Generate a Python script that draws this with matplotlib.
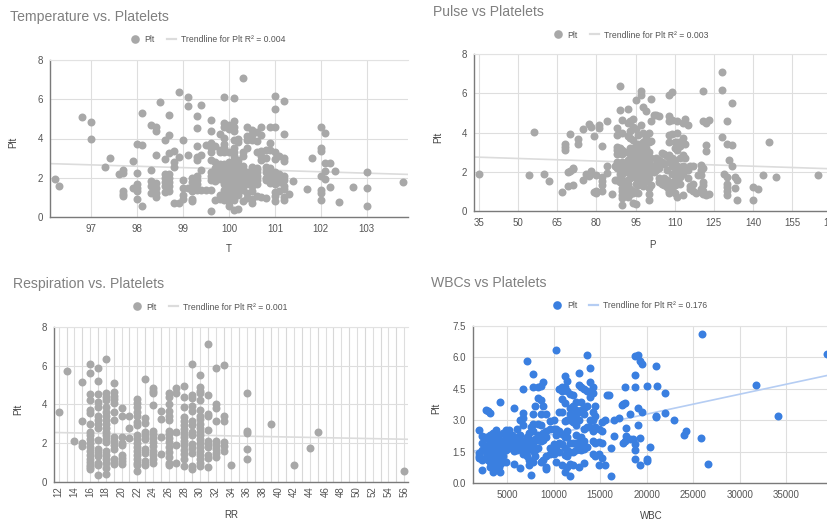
import matplotlib
matplotlib.use('Agg')
import matplotlib.pyplot as plt
from matplotlib.lines import Line2D

plt.rcParams['font.family'] = ['Liberation Sans', 'DejaVu Sans']

W, H = 828, 522

# Temperature: кожному значенню T відповідає список Plt
temp_t = [96.2, 96.3, 96.8, 97, 97.3, 97.4, 97.6, 97.7, 97.9, 98, 98.1, 98.3, 98.4, 98.5, 98.6, 98.7, 98.8, 98.9,
          99, 99.1, 99.2, 99.3, 99.4, 99.5, 99.6, 99.7, 99.8, 99.9, 100, 100.1, 100.2, 100.3, 100.4, 100.5, 100.6,
          100.7, 100.8, 100.9, 101, 101.1, 101.2, 101.3, 101.4, 101.7, 101.8, 102, 102.1, 102.2, 102.3, 102.4,
          102.7, 103, 103.8]
temp_plt = [[1.95], [1.6], [5.1], [4.85, 4.0], [2.55], [3.0], [2.2], [2.4, 2.25, 1.3, 1.15, 1.05], [2.85, 1.5],
            [3.7, 2.25, 1.7, 1.5, 1.35, 0.9], [5.3, 3.65, 0.55], [4.7, 2.4, 1.85, 1.6, 1.2],
            [4.6, 4.4, 3.15, 1.75, 1.5, 1.2, 1.0], [5.85], [3.9, 2.95, 2.2, 2.0, 1.8, 1.6, 1.25],
            [5.2, 4.2, 3.25, 2.2, 2.0, 1.8, 1.6, 1.3], [3.35, 2.8, 2.55, 0.7], [6.35, 3.05, 0.7],
            [3.9, 1.9, 1.5, 1.1, 0.9], [6.1, 5.65, 3.15, 1.5], [2.0, 1.8, 1.5, 1.3, 0.9, 0.8],
            [5.15, 4.55, 3.6, 3.05, 2.9, 2.1, 1.9, 1.7, 1.4], [5.7, 3.15, 2.4, 1.4], [3.65, 1.4],
            [4.95, 4.4, 3.75, 3.5, 3.3, 2.9, 2.3, 2.1, 1.9, 1.4, 0.33], [3.6, 2.8, 2.5, 2.2, 2.0, 1.85, 0.85],
            [4.25, 3.4, 3.3, 2.7, 2.4, 2.2, 1.95, 1.1, 0.9],
            [6.1, 4.8, 4.6, 4.05, 3.7, 3.5, 3.3, 2.7, 2.5, 2.3, 2.1, 1.9, 1.7, 1.4, 1.2, 1.0, 0.85],
            [4.7, 4.5, 3.3, 2.8, 2.6, 2.4, 2.2, 2.0, 1.8, 1.6, 1.4, 1.2, 1.05, 0.9, 0.75, 0.55],
            [6.05, 4.9, 4.6, 4.4, 3.9, 3.5, 3.3, 3.1, 2.9, 2.7, 2.5, 2.3, 2.0, 1.8, 1.6, 1.4, 1.2, 1.0, 0.85, 0.38],
            [3.95, 3.8, 2.9, 2.7, 2.5, 2.3, 2.1, 1.9, 1.7, 1.5, 1.3, 1.1, 0.4],
            [7.1, 3.3, 3.1, 2.6, 2.4, 2.2, 2.0, 1.8, 1.6, 1.4, 0.8],
            [4.6, 4.15, 3.9, 3.5, 2.3, 2.1, 1.9, 1.7, 1.2, 0.95],
            [4.45, 4.2, 3.9, 2.55, 2.3, 2.0, 1.8, 1.6, 1.3, 0.9, 0.7],
            [4.35, 3.85, 3.3, 2.5, 2.3, 2.1, 1.9, 1.7, 1.05], [4.6, 4.2, 3.35, 3.1, 2.9, 1.0],
            [3.4, 3.0, 2.55, 2.3, 2.0, 1.9, 0.95], [4.6, 3.75, 3.4, 2.5, 2.3, 2.1, 1.9, 1.75],
            [6.15, 5.5, 4.6, 3.3, 2.95, 2.3, 2.1, 1.9, 1.7, 1.25, 1.05, 0.8], [3.1, 2.2, 2.0, 1.8, 1.3],
            [5.9, 4.25, 3.0, 2.85, 2.1, 1.9, 1.6, 1.45, 1.0, 0.85], [1.15], [1.85], [1.45], [3.0],
            [4.6, 3.5, 3.35, 2.1, 1.4, 1.2, 0.85], [4.3, 2.75, 2.35, 1.95], [2.75, 1.55], [2.35], [0.75], [1.55],
            [2.3, 1.5, 0.55], [1.8]]
temp_trend_x = [96.1, 103.9]
temp_trend_y = [2.72, 2.17]
temp_ticks = [97, 98, 99, 100, 101, 102, 103]

# Pulse
pulse_p = [35, 54, 56, 60, 62, 67, 68, 69, 70, 71, 73, 75, 76, 77, 78, 79, 80, 81, 82, 84, 86, 87, 88, 89, 90, 91,
           92, 93, 94, 95, 96, 97, 98, 99, 100, 101, 102, 103, 104, 105, 106, 107, 108, 109, 110, 111, 112, 113,
           114, 115, 116, 117, 118, 119, 120, 121, 122, 123, 128, 129, 130, 131, 132, 133, 134, 140, 142, 144,
           146, 149, 165]
pulse_plt = [[1.9], [1.85], [4.05], [1.9], [1.55], [0.95], [3.4, 3.25, 3.1], [2.0, 1.25], [3.9, 2.05],
             [2.2, 2.15, 1.35], [3.65, 3.4], [4.2, 1.6], [1.9], [4.45, 1.8], [4.3, 2.05], [3.8, 0.95],
             [1.85, 1.0, 0.9], [4.4, 4.25], [3.3, 1.75, 1.55, 1.3, 1.0], [4.6, 2.3, 1.95], [0.85], [2.3, 1.6],
             [4.25, 3.85, 3.25, 3.1, 2.9, 2.5, 2.2, 1.6], [6.35, 5.15, 3.2, 2.95, 2.4, 2.1, 1.9, 1.5],
             [4.65, 3.95, 3.1, 2.9, 2.5, 2.2, 1.9, 1.6, 1.15, 1.0, 0.8, 0.65, 0.33],
             [3.0, 2.4, 2.0, 1.55, 1.2, 1.0, 0.85], [5.2, 4.5, 3.8, 2.6, 2.3, 2.0, 1.6, 1.4, 1.1, 0.9, 0.7],
             [4.6, 4.1, 3.7, 3.2, 2.9, 2.5, 2.2, 1.7, 1.1, 0.85], [4.7, 4.3, 3.6, 3.2, 2.8, 2.5, 2.2, 1.9, 1.0, 0.9, 0.4],
             [5.65, 4.2, 3.3, 3.0, 2.6, 2.3, 2.0, 1.7, 1.4, 0.95, 0.38], [3.85, 3.4, 2.9, 2.5, 2.1, 1.8, 1.3, 0.9],
             [6.1, 5.9, 4.4, 3.3, 3.0, 2.6, 2.3, 2.0, 1.7, 1.4], [5.3, 3.95, 3.5, 3.1, 2.8, 2.4, 2.1, 1.8, 1.5, 1.25],
             [5.1, 3.7, 3.2, 2.9, 2.6, 2.2, 1.9, 1.55], [4.0, 3.5, 3.0, 2.6, 2.3, 2.0, 1.7, 1.15, 0.85, 0.55],
             [5.7, 4.6, 3.55, 2.7, 2.3, 2.0, 1.3], [4.9, 2.2, 2.0], [4.9, 2.7, 2.4, 2.1],
             [4.85, 2.6, 2.2, 1.7, 1.5], [2.95, 2.5, 1.6, 1.4], [2.9, 2.4, 1.7, 1.3], [2.8, 2.1, 1.6, 1.2],
             [5.9, 4.85, 4.6, 3.85, 3.5, 2.85, 2.5, 1.5, 1.0, 0.9], [6.05, 4.65, 3.9, 2.7, 2.3, 1.9, 1.45, 1.1],
             [3.5, 3.2, 2.6, 2.0, 1.6, 1.3, 0.9], [4.6, 3.95, 3.5, 3.1, 2.3, 2.0, 1.7, 1.4, 0.7],
             [3.5, 3.3, 2.7, 2.1, 1.75, 1.4], [4.5, 3.7, 2.85, 2.3, 1.9, 0.8], [4.7, 3.4, 2.7, 2.2], [4.4, 2.1, 1.7],
             [2.3, 1.25, 1.1], [2.3, 1.4, 1.0], [0.9], [1.85], [2.35, 2.1, 1.85, 1.1, 0.95],
             [6.1, 4.6, 2.2, 1.5, 1.3, 1.0, 0.85], [4.5, 3.35, 3.05, 0.8], [4.65, 0.85], [7.1, 6.15, 3.75], [1.9],
             [4.6, 3.4, 1.75, 1.4, 1.2, 1.0, 0.8], [2.6], [5.5, 3.35, 2.3], [1.75, 1.15], [1.6, 0.55], [1.2, 0.55],
             [1.1], [1.85], [3.5], [1.75], [1.85]]
pulse_trend_x = [33.2, 170.3]
pulse_trend_y = [2.75, 2.15]
pulse_ticks = [35, 50, 65, 80, 95, 110, 125, 140, 155, 170]

# Respiration
resp_rr = [12, 13, 14, 15, 16, 17, 18, 19, 20, 21, 22, 23, 24, 25, 26, 27, 28, 29, 30, 31, 32, 33, 34, 36, 39, 42,
           44, 45, 56]
resp_plt = [[3.6], [5.7], [2.1], [5.15, 3.15, 2.0, 1.85],
            [6.1, 5.6, 4.55, 4.2, 3.7, 3.55, 3.0, 2.6, 2.4, 2.2, 2.0, 1.8, 1.6, 1.4, 1.2, 1.05, 0.9, 0.75, 0.65],
            [5.85, 5.2, 4.55, 4.1, 3.85, 3.4, 3.2, 3.0, 2.8, 2.15, 1.7, 1.5, 1.35, 1.0, 0.85, 0.35],
            [6.35, 4.6, 4.4, 4.2, 3.85, 3.6, 3.4, 3.2, 3.0, 2.8, 2.6, 2.4, 2.2, 2.05, 1.6, 1.4, 1.2, 1.0, 0.7, 0.4],
            [5.1, 4.65, 4.45, 4.25, 4.05, 3.6, 3.2, 2.3, 2.1, 1.9, 1.7, 1.2, 1.05, 0.95],
            [3.8, 3.4, 2.3, 2.0, 1.9, 1.4, 1.25, 1.1, 0.95], [3.4, 2.8, 2.25],
            [4.3, 4.05, 3.85, 3.6, 3.4, 3.1, 2.95, 2.4, 2.2, 2.0, 1.8, 1.6, 1.4, 1.2, 1.0, 0.85, 0.55],
            [5.3, 3.3, 3.05, 2.55, 2.35, 2.2, 1.7, 1.5, 1.1, 0.9],
            [4.85, 4.7, 4.6, 3.95, 2.65, 2.45, 2.25, 2.05, 1.85, 1.6, 1.4, 1.2, 1.0], [3.65, 3.25, 2.3, 1.45],
            [4.6, 4.4, 4.0, 3.65, 3.4, 3.2, 2.65, 2.45, 2.25, 2.05, 1.8, 1.55, 1.3, 1.0, 0.9],
            [4.85, 4.6, 2.55, 1.9, 1.0],
            [4.95, 4.4, 3.85, 3.35, 3.15, 2.95, 2.75, 2.5, 2.3, 2.1, 1.9, 1.65, 1.45, 1.2, 0.8],
            [6.1, 4.5, 4.35, 3.9, 3.65, 3.15, 2.95, 2.6, 2.4, 1.95, 1.75, 1.5, 0.8, 0.65],
            [5.5, 4.9, 4.7, 4.6, 4.2, 3.7, 3.4, 3.25, 3.0, 2.8, 2.6, 2.4, 2.2, 2.0, 1.8, 1.6, 1.4, 1.2, 1.0, 0.8],
            [7.1, 4.5, 3.5, 3.4, 2.7, 2.1, 1.95, 1.8, 1.4, 1.25, 0.75], [5.85, 4.0, 3.8, 3.15, 2.1, 1.9, 1.7, 1.5, 1.3],
            [6.05, 3.4, 3.15, 2.05, 1.85, 1.6], [0.85], [4.6, 2.65, 2.5, 1.7, 1.2], [3.0], [0.85], [1.75], [2.55],
            [0.55]]
resp_trend_x = [11.4, 56.5]
resp_trend_y = [2.55, 2.2]
resp_ticks = list(range(12, 57, 2))
resp_grid = list(range(12, 57))

# WBC
wbc_x = [2000, 2300, 2700, 3000, 3200, 3500, 3800, 4100, 4300, 4600, 4900, 5200, 5500, 5800, 6100, 6400, 6700, 7100,
         7400, 7600, 7800, 8000, 8300, 8600, 8900, 9200, 9600, 10000, 10300, 10600, 10900, 11200, 11400, 11800,
         12100, 12400, 12700, 13000, 13300, 13600, 13900, 14200, 14500, 14900, 15200, 15500, 15700, 16000, 16200,
         16500, 17000, 17300, 17500, 17700, 17800, 18200, 18500, 18800, 19100, 19300, 19500, 20000, 20400, 21000,
         21100, 22000, 22900, 24000, 24200, 25800, 25900, 26600, 31700, 34100, 39400]
wbc_plt = [[2.55, 1.45, 1.3, 1.2], [2.25, 1.9, 1.6, 1.1, 0.65], [3.5, 2.2, 1.8, 1.5, 1.25], [3.45, 2.1, 1.7, 1.4, 1.1],
           [3.35, 2.3, 1.95, 1.6, 1.3, 1.0, 0.8], [2.4, 2.1, 1.85, 1.6, 1.35, 1.1, 0.9, 0.55],
           [2.55, 2.25, 2.0, 1.75, 1.5, 1.25, 1.0, 0.7], [2.3, 2.05, 1.8, 1.55, 1.3, 1.05, 0.8],
           [3.9, 1.95, 1.6, 1.2, 0.9, 0.55], [2.4, 2.0, 1.7, 1.3, 1.0], [2.55, 2.2, 1.9, 1.6, 1.0],
           [2.55, 2.2, 1.95, 1.7], [2.3, 2.0, 1.75], [3.6, 2.1, 1.8, 1.55, 0.9], [2.6, 2.2, 1.9, 1.6],
           [3.0, 2.3, 1.9, 1.65, 0.75], [4.5, 3.35, 3.1, 2.8, 2.0, 1.7, 1.4], [5.85, 2.2, 1.9, 1.6, 1.3],
           [2.4, 2.1, 1.7, 1.1, 0.85], [2.7, 1.75, 1.0, 0.4], [5.2, 4.6, 3.3, 2.85, 2.5, 1.9, 1.55, 1.0],
           [3.7, 2.1, 1.6, 1.3], [4.6, 4.05, 2.85, 2.3, 2.05, 1.7], [4.65, 3.95, 3.3, 2.8, 2.3, 2.0, 1.0],
           [4.85, 3.7, 2.4, 2.05, 1.1], [3.3, 2.5, 2.2, 1.3, 0.8, 0.7], [2.95, 2.6, 1.7, 1.4],
           [3.0, 2.6, 1.85, 1.6, 1.4], [6.35, 2.6, 2.3, 1.75, 1.0], [4.5, 3.4, 2.5, 1.9, 1.5],
           [4.6, 4.4, 4.0, 3.4, 2.35, 1.85, 0.85], [5.1, 4.6, 3.85, 2.95, 2.35, 2.2, 1.7, 1.35, 0.55],
           [4.9, 4.4, 3.0, 2.5, 2.2, 1.6, 1.3, 0.8], [4.25, 3.6, 3.3, 3.0, 1.9, 1.5, 0.9, 0.35],
           [4.2, 3.7, 3.2, 2.9, 1.9, 1.5, 0.85], [3.9, 3.5, 3.1, 2.8, 2.3, 1.9, 1.6], [5.25, 4.7, 3.4, 3.0, 1.95, 1.65, 0.8],
           [4.6, 3.9, 3.5, 2.2, 1.9, 1.6], [4.5, 3.6, 3.3, 2.6, 2.0, 1.65, 0.95], [6.1, 4.4, 3.7, 2.7, 1.75],
           [5.5, 4.85, 4.1, 3.0, 2.7], [4.6, 4.3, 3.4, 3.0, 2.5, 2.0, 1.4], [3.7, 3.2, 2.7, 1.9, 1.3],
           [2.6, 1.95, 1.4, 0.85], [2.9, 2.5, 1.9, 1.2], [3.0, 0.85], [4.2], [4.2], [1.7, 0.35], [3.0, 2.25], [3.1],
           [3.75], [3.8, 1.9], [4.6, 3.85, 2.0], [2.65, 2.25], [3.3, 2.1], [2.1], [6.05, 5.15, 4.6, 1.85, 1.6, 1.15],
           [6.1, 3.6, 2.8], [5.85, 2.15, 0.85], [5.7, 3.4], [4.65, 1.15, 1.05], [1.75], [5.6, 3.2, 3.15], [4.65],
           [4.3, 3.35], [3.0], [2.3], [2.5], [2.15], [7.1], [0.9], [4.7], [3.2], [6.15]]
wbc_trend_x = [1316, 39480]
wbc_trend_y = [1.52, 5.15]
wbc_ticks = [5000, 10000, 15000, 20000, 25000, 30000, 35000]

GREY = '#a8a8a8'
BLUE = '#3a7fe0'


def flatten(xs, groups):
    out_x, out_y = [], []
    for x, ys in zip(xs, groups):
        for y in ys:
            out_x.append(x)
            out_y.append(y)
    return out_x, out_y


def panel(box, xlim, ylim, xs, groups, trend_x, trend_y, xticks, yticks, ylabels, title, title_pos, legend_text,
          legend_pos, xlabel, xlabel_pos, ylabel_pos, color=GREY, trend_color='#dcdcdc', xgrid=None, rotate=0):
    # box = (ліво, верх, право, низ) у пікселях
    left, top, right, bottom = box
    ax = fig.add_axes([left / W, 1 - bottom / H, (right - left) / W, (bottom - top) / H])
    ax.set_xlim(xlim)
    ax.set_ylim(ylim)
    px, py = flatten(xs, groups)
    ax.plot(trend_x, trend_y, color=trend_color, lw=1.2, zorder=2)
    ax.scatter(px, py, s=33, color=color, linewidths=0, zorder=3, clip_on=False)

    ax.set_xticks(xticks)
    ax.set_yticks(yticks)
    ax.set_yticklabels(ylabels)
    ax.tick_params(length=0, labelsize=7, labelcolor='#555555', pad=5)
    if rotate:
        ax.tick_params(axis='x', labelrotation=rotate, pad=3)
    if xgrid is not None:
        ax.set_xticks(xgrid, minor=True)
        ax.tick_params(axis='x', which='minor', length=0)
        ax.grid(True, axis='x', which='minor', color='#d8d8d8', lw=0.8, zorder=0)
    ax.grid(True, color='#dedede', lw=0.8, zorder=0)
    ax.set_axisbelow(True)
    for side in ['right']:
        ax.spines[side].set_visible(False)
    ax.spines['top'].set_color('#e2e2e2')
    ax.spines['left'].set_color('#7a7a7a')
    ax.spines['bottom'].set_color('#7a7a7a')
    ax.spines['left'].set_linewidth(1.0)
    ax.spines['bottom'].set_linewidth(1.0)

    fig.text(title_pos[0] / W, 1 - title_pos[1] / H, title, fontsize=10.1, color='#808080', ha='left', va='center')
    fig.text(xlabel_pos[0] / W, 1 - xlabel_pos[1] / H, xlabel, fontsize=7, color='#444444', ha='center', va='center')
    fig.text(ylabel_pos[0] / W, 1 - ylabel_pos[1] / H, 'Plt', fontsize=7, color='#444444', ha='center', va='center',
             rotation=90)

    handles = [Line2D([], [], marker='o', ls='', color=color, markersize=6.2, markeredgewidth=0),
               Line2D([], [], color=trend_color, lw=1.6)]
    fig.legend(handles, ['Plt', legend_text], ncol=2, frameon=False, fontsize=6.2, labelcolor='#555555',
               loc='center', bbox_to_anchor=(legend_pos[0] / W, 1 - legend_pos[1] / H), handlelength=1.0,
               handletextpad=0.6, columnspacing=1.4, borderpad=0)


fig = plt.figure(figsize=(W / 100, H / 100), dpi=100)
y8 = [0, 2, 4, 6, 8]
y8_labels = ['0', '2', '4', '6', '8']

panel((50, 60, 408, 217), (96.1, 103.9), (0, 8), temp_t, temp_plt, temp_trend_x, temp_trend_y, temp_ticks, y8,
      y8_labels, 'Temperature vs. Platelets', (10, 17), 'Trendline for Plt R² = 0.004', (208, 40), 'T', (229, 249),
      (13, 142))
panel((474.3, 54, 832, 211), (33.2, 170.3), (0, 8), pulse_p, pulse_plt, pulse_trend_x, pulse_trend_y, pulse_ticks, y8,
      y8_labels, 'Pulse vs Platelets', (433, 12), 'Trendline for Plt R² = 0.003', (631, 35), 'P', (652, 245),
      (438, 137))
panel((54, 326.7, 408, 482), (11.4, 56.5), (0, 8), resp_rr, resp_plt, resp_trend_x, resp_trend_y, resp_ticks, y8,
      y8_labels, 'Respiration vs. Platelets', (13, 284), 'Trendline for Plt R² = 0.001', (210, 307), 'RR', (231, 515),
      (18, 409), xgrid=resp_grid, rotate=90)
panel((472.7, 326, 828, 483.3), (1316, 39480), (0, 7.5), wbc_x, wbc_plt, wbc_trend_x, wbc_trend_y, wbc_ticks,
      [0, 1.5, 3, 4.5, 6, 7.5], ['0.0', '1.5', '3.0', '4.5', '6.0', '7.5'], 'WBCs vs Platelets', (431, 283),
      'Trendline for Plt R² = 0.176', (630, 306), 'WBC', (651, 516), (436, 408), color=BLUE, trend_color='#b5cdf3')

fig.savefig('out.png', dpi=100)
